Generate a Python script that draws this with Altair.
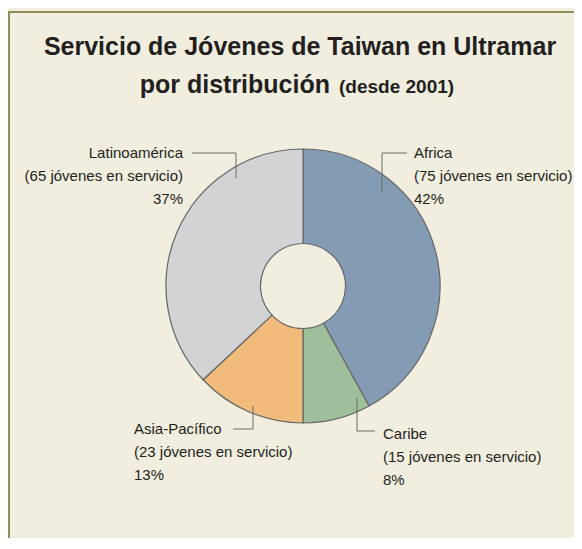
import altair as alt
import pandas as pd

# --- data ---
regions = ["Africa", "Caribe", "Asia-Pacífico", "Latinoamérica"]
volunteers = [75, 15, 23, 65]
percents = [42, 8, 13, 37]
colors = ["#839CB4", "#9DBF99", "#F1BB7B", "#D1D3D5"]

title_line1 = "Servicio de Jóvenes de Taiwan en Ultramar"
title_line2a = "por distribución"
title_line2b = "(desde 2001)"

df = pd.DataFrame({
    "region": regions,
    "n": volunteers,
    "pct": percents,
    "order": list(range(len(regions))),
})

# --- layout (pixels, chart coordinates) ---
W, H = 566, 530
CX, CY = 295, 278
R_OUT, R_IN = 137, 42.5
FONT = "Liberation Sans, Arial, sans-serif"
INK = "#231F20"
LINE = "#6B6B6B"

# label blocks: region, anchor x, first-line baseline y, align
label_layout = pd.DataFrame({
    "region": ["Latinoamérica", "Africa", "Asia-Pacífico", "Caribe"],
    "x": [175, 406, 126, 375],
    "y": [150, 150, 426, 431],
    "align": ["right", "left", "left", "left"],
})
# leader lines: two segments per label (x, y, x2, y2)
leaders = pd.DataFrame({
    "x":  [184, 228, 374, 374, 245, 225, 349, 349],
    "y":  [145, 145, 145, 145, 398, 421, 390, 423],
    "x2": [228, 228, 399, 374, 245, 245, 349, 367],
    "y2": [145, 170, 145, 185, 421, 421, 423, 423],
})

lab = df.merge(label_layout, on="region")
lab["l1"] = lab["region"]
lab["l2"] = "(" + lab["n"].astype(str) + " jóvenes en servicio)"
lab["l3"] = lab["pct"].astype(str) + "%"

frame = alt.Chart(pd.DataFrame({"a": [0]})).mark_rect(
    fill="#F1EEE0", stroke="#8F8D57", strokeWidth=2
).encode(x=alt.value(1), y=alt.value(4), x2=alt.value(700), y2=alt.value(700))

pie = alt.Chart(df).mark_arc(
    outerRadius=R_OUT, innerRadius=R_IN, stroke="#666666", strokeWidth=1.2
).encode(
    theta=alt.Theta("pct:Q", stack=True),
    order=alt.Order("order:Q"),
    color=alt.Color("region:N", scale=alt.Scale(domain=regions, range=colors), legend=None),
    x=alt.value(CX), y=alt.value(CY),
)

lines = alt.Chart(leaders).mark_rule(color=LINE, strokeWidth=1).encode(
    x=alt.X("x:Q", scale=None), y=alt.Y("y:Q", scale=None),
    x2="x2:Q", y2="y2:Q",
)

def text_layer(field, dy, align):
    return alt.Chart(lab[lab["align"] == align]).mark_text(
        font=FONT, fontSize=15, color=INK, align=align, baseline="alphabetic", dy=dy
    ).encode(
        x=alt.X("x:Q", scale=None), y=alt.Y("y:Q", scale=None), text=f"{field}:N"
    )

texts = []
for al in ["left", "right"]:
    for i, f in enumerate(["l1", "l2", "l3"]):
        texts.append(text_layer(f, i * 23, al))

t1 = alt.Chart(pd.DataFrame({"t": [title_line1]})).mark_text(
    font=FONT, fontSize=25, fontWeight="bold", color=INK, align="center", baseline="alphabetic"
).encode(x=alt.value(292), y=alt.value(47), text="t:N")
t2a = alt.Chart(pd.DataFrame({"t": [title_line2a]})).mark_text(
    font=FONT, fontSize=25, fontWeight="bold", color=INK, align="right", baseline="alphabetic"
).encode(x=alt.value(322), y=alt.value(85), text="t:N")
t2b = alt.Chart(pd.DataFrame({"t": [title_line2b]})).mark_text(
    font=FONT, fontSize=19, fontWeight="bold", color=INK, align="left", baseline="alphabetic"
).encode(x=alt.value(331), y=alt.value(85), text="t:N")

chart = alt.layer(frame, pie, lines, *texts, t1, t2a, t2b).properties(
    width=W, height=H, autosize=alt.AutoSizeParams(type="none"), padding=0,
    background="#F1EEE0",
).configure_view(stroke=None)

chart.save("out.html", embed_options={"renderer": "svg", "actions": False})
